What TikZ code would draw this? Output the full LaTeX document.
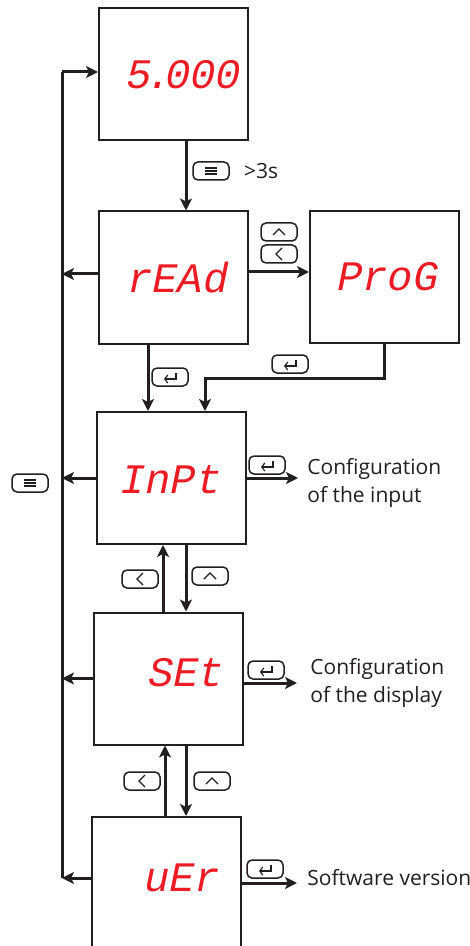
\documentclass[tikz,border=0pt]{standalone}
\usepackage{fontspec}
\setmainfont{Open Sans}
\newfontfamily\segfont[FakeSlant=0.2]{Liberation Mono}
\usetikzlibrary{positioning,arrows.meta,calc}
\definecolor{segred}{RGB}{237,28,36}
\definecolor{inkgray}{RGB}{35,31,32}

\begin{document}
\begin{tikzpicture}[x=0.5pt,y=-0.5pt,
    % display panels and their seven-segment readouts
    panel/.style={draw=inkgray, line width=1pt, minimum width=74.5pt, minimum height=66pt, inner sep=0pt},
    segtext/.style={text=segred, font=\segfont\fontsize{21}{21}\selectfont, inner sep=0pt},
    % front-panel key swatches
    keybox/.style={draw=inkgray, line width=0.75pt, rounded corners=2.5pt, minimum width=18pt, minimum height=9pt, inner sep=0pt},
    keyglyph/.style={draw=inkgray, line width=0.6pt},
    pics/menukey/.style={code={
      \node[keybox] (-k) {};
      \draw[keyglyph] (-6,-3) -- (6,-3) (-6,0) -- (6,0) (-6,3) -- (6,3);}},
    pics/upkey/.style={code={
      \node[keybox] (-k) {};
      \draw[keyglyph] (-6,3) -- (0,-3) -- (6,3);}},
    pics/leftkey/.style={code={
      \node[keybox] (-k) {};
      \draw[keyglyph] (3,-6) -- (-3,0) -- (3,6);}},
    pics/enterkey/.style={code={
      \node[keybox] (-k) {};
      \draw[keyglyph, -{Straight Barb[length=1.5pt,width=4pt]}] (6,-4) -- (6,2) -- (-6,2);}},
    % connectors and side notes
    flow/.style={draw=inkgray, line width=1.5pt, -{Stealth[length=6pt,width=6pt,inset=1.5pt]}},
    bus/.style={draw=inkgray, line width=1.5pt},
    note/.style={anchor=west, align=left, font=\fontsize{10.5}{14}\selectfont, text=inkgray, inner sep=0pt}
]
\useasboundingbox (0,0) rectangle (470,946);

% Display panels
\node[panel] (disp) at (173.5,74) {};
\node[panel] (read) at (173.5,277.5) {};
\node[panel] (prog) at (384.5,277) {};
\node[panel] (inpt) at (171.5,478) {};
\node[panel] (set) at (168.5,678.5) {};
\node[panel] (ver) at (166.5,883) {};

% Readouts (placed off-centre, as on the meter)
\node[segtext] (dispval) at (182,75) {5\kern-3pt.\kern-3pt000};
\node[segtext] (readval) at (176,278) {rEAd};
\node[segtext] (progval) at (386,277) {ProG};
\node[segtext] (inptval) at (169,480) {InPt};
\node[segtext] (setval) at (184,673) {SEt};
\node[segtext] (verval) at (180,878) {uEr};

% Return bus on the left (menu key)
\coordinate (busT) at (62,72);
\coordinate (busB) at (62,878);
\draw[bus] (busB) -- (busT);
\draw[flow] (busT) -- (busT -| disp.west);
\path ([yshift=1.75pt]read.west) coordinate (rw);
\draw[flow] (rw) -- (rw -| busT);
\foreach \n in {inpt,set} \draw[flow] (\n.west) -- (\n.west -| busT);
\draw[flow] (busB -| ver.west) -- (busB);

% Main menu entry and branch to ProG
\path ([xshift=6.25pt]disp.south) coordinate (d1);
\draw[flow] (d1) -- (d1 |- read.north);
\path ([yshift=2.75pt]read.east) coordinate (r2);
\draw[flow] (r2) -- (r2 -| prog.west);
\path ([xshift=-12.75pt]read.south) coordinate (r1);
\draw[flow] (r1) -- (r1 |- inpt.north);
\coordinate (p1) at (205,378);
\draw[flow] (prog.south) |- (p1) -- (p1 |- inpt.north);

% Scrolling between menu items
\path ([xshift=-4.25pt]inpt.south) coordinate (iu) ([xshift=7.25pt]inpt.south) coordinate (id);
\draw[flow] (iu |- set.north) -- (iu);
\draw[flow] (id) -- (id |- set.north);
\path ([xshift=-1.75pt]set.south) coordinate (su) ([xshift=8.75pt]set.south) coordinate (sd);
\draw[flow] (su |- ver.north) -- (su);
\draw[flow] (sd) -- (sd |- ver.north);

% Sub-menus
\node[note] (intxt) at (307,483) {Configuration\\of the input};
\draw[flow, shorten >=4.5pt] (inpt.east) -- (inpt.east -| intxt.west);
\node[note] (settxt) at (310,683) {Configuration\\of the display};
\path ([yshift=-2.25pt]set.east) coordinate (se);
\draw[flow, shorten >=6.5pt] (se) -- (se -| settxt.west);
\node[note] (vertxt) at (307,878) {Software version};
\draw[flow, shorten >=5pt] (ver.east) -- (ver.east -| vertxt.west);

% Key swatches next to the connectors
\foreach \nm/\kind/\x/\y in {kdisp/menukey/211/171, kup1/upkey/279/232, kleft1/leftkey/279/254,
    kent1/enterkey/170/377, kent2/enterkey/290/364, kmenu/menukey/30/483, kent3/enterkey/267/465,
    kleft2/leftkey/140/579, kup2/upkey/210/576, kent4/enterkey/266/670,
    kleft3/leftkey/142/781, kup3/upkey/212/781, kent5/enterkey/265/869}
  \pic (\nm) at (\x,\y) {\kind};
\node[note, right=7pt of kdisp-k] (hold) {>3s};

\end{tikzpicture}
\end{document}
